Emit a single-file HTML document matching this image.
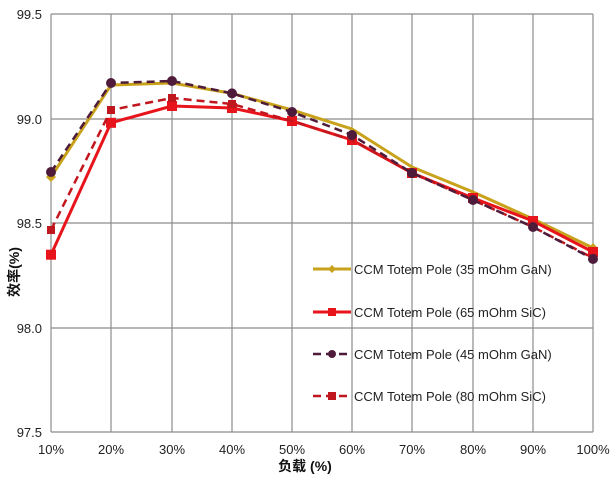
<!DOCTYPE html><html><head><style>body{margin:0;background:#fff}svg text{font-family:"Liberation Sans","Noto Sans CJK SC",sans-serif}</style></head><body>
<svg width="615" height="479" viewBox="0 0 615 479">
<g stroke="#8c8c8c" stroke-width="1.2">
<line x1="51" y1="14" x2="593" y2="14"/><line x1="51" y1="119" x2="593" y2="119"/><line x1="51" y1="223" x2="593" y2="223"/><line x1="51" y1="328" x2="593" y2="328"/><line x1="51" y1="432" x2="593" y2="432"/>
<line x1="51" y1="14" x2="51" y2="432"/><line x1="111" y1="14" x2="111" y2="432"/><line x1="172" y1="14" x2="172" y2="432"/><line x1="232" y1="14" x2="232" y2="432"/><line x1="292" y1="14" x2="292" y2="432"/><line x1="352" y1="14" x2="352" y2="432"/><line x1="412" y1="14" x2="412" y2="432"/><line x1="473" y1="14" x2="473" y2="432"/><line x1="533" y1="14" x2="533" y2="432"/><line x1="593" y1="14" x2="593" y2="432"/>
</g>
<g font-size="13" fill="#222" text-anchor="end">
<text x="42" y="19">99.5</text><text x="42" y="124">99.0</text><text x="42" y="228">98.5</text><text x="42" y="333">98.0</text><text x="42" y="437">97.5</text>
</g>
<g font-size="13" fill="#222" text-anchor="middle">
<text x="51" y="454">10%</text><text x="111" y="454">20%</text><text x="172" y="454">30%</text><text x="232" y="454">40%</text><text x="292" y="454">50%</text><text x="352" y="454">60%</text><text x="412" y="454">70%</text><text x="473" y="454">80%</text><text x="533" y="454">90%</text><text x="593" y="454">100%</text>
</g>
<text x="305" y="471" font-size="14" font-weight="bold" text-anchor="middle" fill="#111">负载 (%)</text>
<text transform="translate(19,272) rotate(-90)" font-size="14" font-weight="bold" text-anchor="middle" fill="#111">效率(%)</text>
<!-- GaN35 -->
<polyline fill="none" stroke="#c9a21c" stroke-width="3" points="51,177 111,85 172,83 232,93.4 292,110 352,129 412,167 473,192 533,219 593,248"/>
<g fill="#c9a21c"><path d="M51,172 l5,5 -5,5 -5,-5z"/><path d="M593,243 l5,5 -5,5 -5,-5z"/></g>
<!-- SiC65 -->
<polyline fill="none" stroke="#e8141b" stroke-width="3" points="51,254.7 111,122.8 172,106 232,108 292,121 352,140 412,173 473,198 533,221 593,252"/>
<g fill="#e8141b"><rect x="46" y="249.7" width="10" height="10"/><rect x="106" y="117.8" width="10" height="10"/><rect x="167" y="101" width="10" height="10"/><rect x="227" y="103" width="10" height="10"/><rect x="287" y="116" width="10" height="10"/><rect x="347" y="135" width="10" height="10"/><rect x="407" y="168" width="10" height="10"/><rect x="468" y="193" width="10" height="10"/><rect x="528" y="216" width="10" height="10"/><rect x="588" y="247" width="10" height="10"/></g>
<!-- SiC80 -->
<polyline fill="none" stroke="#c0161d" stroke-width="2.5" stroke-dasharray="8,5" points="51,230 111,110 172,98 232,104 292,121 352,140 412,173 473,200 533,227 593,258"/>
<g fill="#c0161d"><rect x="47" y="226" width="8" height="8"/><rect x="107" y="106" width="8" height="8"/><rect x="168" y="94" width="8" height="8"/><rect x="228" y="100" width="8" height="8"/><rect x="589" y="254" width="8" height="8"/></g>
<!-- GaN45 -->
<polyline fill="none" stroke="#4e1c3a" stroke-width="2.5" stroke-dasharray="8,5" points="51,172 111,83 172,81 232,93.4 292,112 352,135 412,173 473,200 533,227 593,259"/>
<g fill="#4e1c3a"><circle cx="51" cy="172" r="5"/><circle cx="111" cy="83" r="5"/><circle cx="172" cy="81" r="5"/><circle cx="232" cy="93.4" r="5"/><circle cx="292" cy="112" r="5"/><circle cx="352" cy="135" r="5"/><circle cx="412" cy="173" r="5"/><circle cx="473" cy="200" r="5"/><circle cx="533" cy="227" r="5"/><circle cx="593" cy="259" r="5"/></g>
<!-- legend -->
<g font-size="13" fill="#222">
<line x1="313" y1="269" x2="351" y2="269" stroke="#c9a21c" stroke-width="3"/><path d="M332,265 l4,4 -4,4 -4,-4z" fill="#c9a21c"/><text x="354" y="274">CCM Totem Pole (35 mOhm GaN)</text>
<line x1="313" y1="312" x2="351" y2="312" stroke="#e8141b" stroke-width="3"/><rect x="328" y="308" width="8" height="8" fill="#e8141b"/><text x="354" y="317">CCM Totem Pole (65 mOhm SiC)</text>
<line x1="313" y1="354" x2="351" y2="354" stroke="#4e1c3a" stroke-width="2.5" stroke-dasharray="8,5"/><circle cx="332" cy="354" r="4" fill="#4e1c3a"/><text x="354" y="359">CCM Totem Pole (45 mOhm GaN)</text>
<line x1="313" y1="396" x2="351" y2="396" stroke="#c0161d" stroke-width="2.5" stroke-dasharray="8,5"/><rect x="328" y="392" width="8" height="8" fill="#c0161d"/><text x="354" y="401">CCM Totem Pole (80 mOhm SiC)</text>
</g>
</svg></body></html>
